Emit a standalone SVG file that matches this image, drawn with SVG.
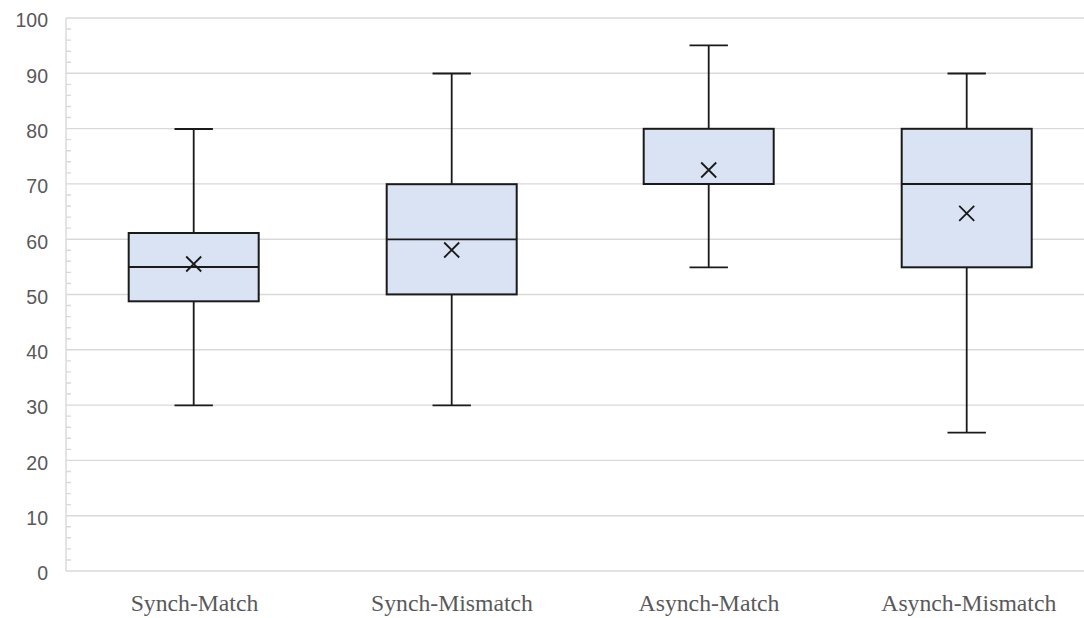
<svg xmlns="http://www.w3.org/2000/svg" width="1084" height="618" viewBox="0 0 1084 618">
<style>
.grid{stroke:#d9d9d9;stroke-width:1.4;fill:none}
.ylab{font-family:"Liberation Sans",Arial,sans-serif;font-size:19.5px;fill:#595959;text-anchor:end}
.xlab{font-family:"Liberation Serif","Times New Roman",serif;font-size:23.7px;fill:#595959;text-anchor:middle}
.box{fill:#dae3f3;stroke:#1a1a1a;stroke-width:2}
.wh{stroke:#1a1a1a;stroke-width:1.8;fill:none}
.mean{stroke:#1a1a1a;stroke-width:1.8;fill:none}
</style>
<rect width="1084" height="618" fill="#ffffff"/>
<g id="axes">
<path class="grid" d="M66 18H1084M66 73.3H1084M66 128.6H1084M66 183.9H1084M66 239.2H1084M66 294.5H1084M66 349.8H1084M66 405.1H1084M66 460.4H1084M66 515.7H1084M66 571H1084M66 18V571"/>
<path class="grid" d="M66 559.94h5M66 548.88h5M66 537.82h5M66 526.76h5M66 504.64h5M66 493.58h5M66 482.52h5M66 471.46h5M66 449.34h5M66 438.28h5M66 427.22h5M66 416.16h5M66 394.04h5M66 382.98h5M66 371.92h5M66 360.86h5M66 338.74h5M66 327.68h5M66 316.62h5M66 305.56h5M66 283.44h5M66 272.38h5M66 261.32h5M66 250.26h5M66 228.14h5M66 217.08h5M66 206.02h5M66 194.96h5M66 172.84h5M66 161.78h5M66 150.72h5M66 139.66h5M66 117.54h5M66 106.48h5M66 95.42h5M66 84.36h5M66 62.24h5M66 51.18h5M66 40.12h5M66 29.06h5"/>
<text class="ylab" x="48" y="27.3">100</text>
<text class="ylab" x="48" y="82.6">90</text>
<text class="ylab" x="48" y="137.9">80</text>
<text class="ylab" x="48" y="193.2">70</text>
<text class="ylab" x="48" y="248.5">60</text>
<text class="ylab" x="48" y="303.8">50</text>
<text class="ylab" x="48" y="359.1">40</text>
<text class="ylab" x="48" y="414.4">30</text>
<text class="ylab" x="48" y="469.7">20</text>
<text class="ylab" x="48" y="525">10</text>
<text class="ylab" x="48" y="580.3">0</text>
</g>
<g id="connectors">
<path class="wh" d="M193.7 129V233M193.7 301.3V405.3M174.5 129H212.9M174.5 405.3H212.9"/>
<path class="wh" d="M451.7 73.5V184.2M451.7 294.4V405.3M432.5 73.5H470.9M432.5 405.3H470.9"/>
<path class="wh" d="M708.7 45.3V128.8M708.7 184V267.3M689.5 45.3H727.9M689.5 267.3H727.9"/>
<path class="wh" d="M966.7 73.5V128.8M966.7 267.3V432.7M947.5 73.5H985.9M947.5 432.7H985.9"/>
</g>
<g id="synch-match">
<rect class="box" x="128.7" y="233" width="130" height="68.3"/>
<path class="wh" d="M128.7 267H258.7"/>
<path class="mean" d="M186.2 256.5l15 15M201.2 256.5l-15 15"/>
<text class="xlab" x="194.5" y="610.7">Synch-Match</text>
</g>
<g id="synch-mismatch">
<rect class="box" x="386.7" y="184.2" width="130" height="110.2"/>
<path class="wh" d="M386.7 239.3H516.7"/>
<path class="mean" d="M444.2 242.5l15 15M459.2 242.5l-15 15"/>
<text class="xlab" x="452" y="610.7">Synch-Mismatch</text>
</g>
<g id="asynch-match">
<rect class="box" x="643.7" y="128.8" width="130" height="55.2"/>
<path class="wh" d="M643.7 184H773.7"/>
<path class="mean" d="M701.2 162.5l15 15M716.2 162.5l-15 15"/>
<text class="xlab" x="709" y="610.7">Asynch-Match</text>
</g>
<g id="asynch-mismatch">
<rect class="box" x="901.7" y="128.8" width="130" height="138.5"/>
<path class="wh" d="M901.7 184H1031.7"/>
<path class="mean" d="M959.2 205.8l15 15M974.2 205.8l-15 15"/>
<text class="xlab" x="968.8" y="610.7">Asynch-Mismatch</text>
</g>
</svg>
